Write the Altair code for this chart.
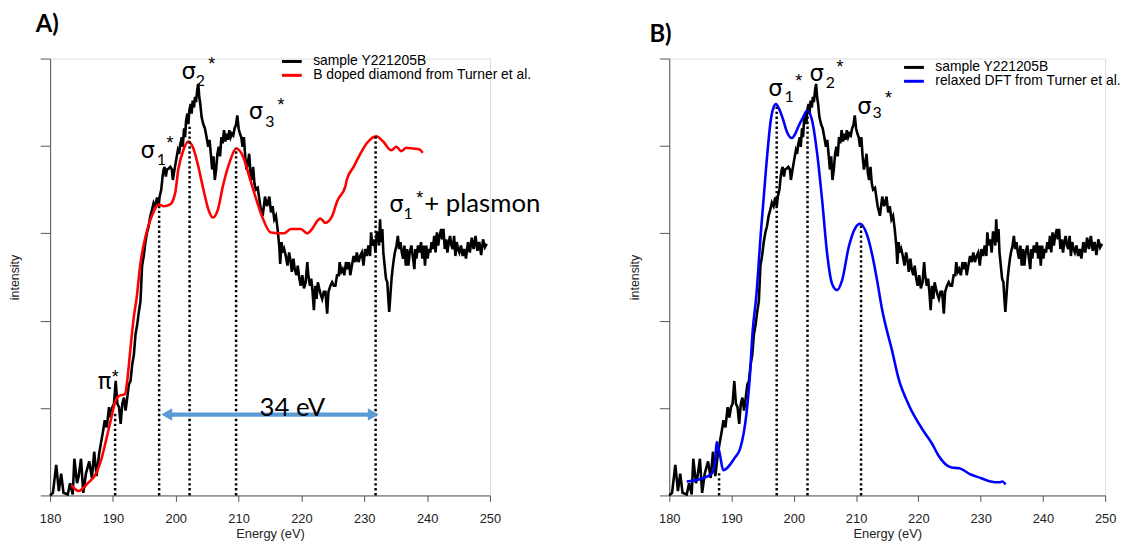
import altair as alt
import pandas as pd

# ---------------- data ----------------
SAMPLE = "sample Y221205B"
RED_NAME = "B doped diamond from Turner et al."
BLUE_NAME = "relaxed DFT from Turner et al."

x_ticks = [180, 190, 200, 210, 220, 230, 240, 250]
y_ticks = [0, 1, 2, 3, 4, 5]

black_E = [180.0, 180.45, 180.97, 181.39, 181.76, 182.13, 182.81, 183.18, 183.6, 183.86,
           184.28, 184.55, 184.92, 185.28, 185.7, 186.23, 186.65, 187.02, 187.39, 187.81,
           188.07, 188.44, 188.7, 189.02, 189.38, 189.65, 189.91, 190.17, 190.44, 190.7,
           190.96, 191.23, 191.49, 191.75, 192.01, 192.28, 192.54, 192.8, 193.07, 193.33,
           193.59, 193.85, 194.12, 194.38,
           194.64, 194.9, 195.17, 195.43, 195.69, 195.96, 196.22, 196.48, 196.75, 197.01,
           197.27, 197.43, 197.69, 197.9, 198.06, 198.22, 198.43, 198.59, 198.85, 199.12,
           199.38, 199.53, 199.8, 200.01, 200.33, 200.53, 200.69, 200.96, 201.11, 201.32,
           201.48, 201.64, 201.85, 202.01, 202.16, 202.37, 202.53, 202.69, 202.9, 203.06,
           203.22, 203.43, 203.58, 203.74, 203.9, 204.11, 204.37, 204.64, 204.9, 205.16,
           205.37, 205.58, 205.79, 206.0, 206.21, 206.42, 206.63, 206.84, 207.05, 207.26,
           207.47, 207.68, 207.9, 208.1, 208.31, 208.52, 208.73, 208.94, 209.15, 209.36,
           209.58, 209.79, 210.0, 210.21, 210.42, 210.63, 210.84, 211.05, 211.26, 211.47,
           211.68, 211.89, 212.1, 212.31, 212.52, 212.73,
           213.04, 213.46, 213.83, 214.2, 214.52, 214.89, 215.15, 215.41, 215.68, 215.94,
           216.2, 216.46, 216.62, 216.83, 217.04, 217.25, 217.51, 217.78, 218.04, 218.3,
           218.46, 218.72, 218.93, 219.2, 219.41, 219.67, 219.88, 220.14, 220.4, 220.67,
           220.93, 221.09, 221.35, 221.56, 221.77, 221.98, 222.19, 222.4, 222.61, 222.82,
           223.03, 223.3, 223.56, 223.82, 224.09, 224.3, 224.61, 224.88, 225.14, 225.4,
           225.66, 225.93, 226.08, 226.35, 226.56, 226.82, 227.09, 227.35, 227.56, 227.77,
           228.03, 228.3, 228.56, 228.82, 229.08, 229.35, 229.61, 229.87, 230.13, 230.4,
           230.66, 230.92, 231.08, 231.29, 231.56, 231.77, 231.98, 232.19, 232.35, 232.51,
           232.66, 232.87, 233.03, 233.24, 233.45, 233.66, 233.82, 233.97, 234.19, 234.34,
           234.5, 234.71, 234.87, 235.13, 235.34, 235.55, 235.76, 235.97, 236.18, 236.39,
           236.6, 236.81, 237.02, 237.23, 237.5, 237.76, 237.97, 238.13, 238.29, 238.55,
           238.82, 239.03, 239.24, 239.45, 239.66, 239.87, 240.08, 240.29, 240.5, 240.71,
           240.92, 241.13, 241.34, 241.55, 241.76, 241.97, 242.24, 242.39, 242.6, 242.81,
           243.02, 243.23, 243.44, 243.65, 243.86, 244.08, 244.29, 244.5, 244.71, 244.92,
           245.13, 245.39, 245.66, 245.92, 246.18, 246.5, 246.8, 247.1, 247.4, 247.7,
           248.0, 248.3, 248.6, 248.9, 249.2, 249.5]
black_I = [0.0, 0.03, 0.35, 0.05, 0.25, 0.03, 0.01, 0.14, 0.01, 0.42,
           0.14, 0.22, 0.42, 0.03, 0.25, 0.39, 0.2, 0.5, 0.22, 0.48,
           0.59, 0.74, 0.86, 0.78, 1.01, 0.89, 1.01, 1.05, 1.31, 1.05,
           1.01, 0.82, 1.05, 1.12, 0.97, 1.12, 1.27, 1.31, 1.5, 1.61,
           1.84, 1.95, 2.1, 2.22,
           2.63, 2.74, 2.9, 3.01, 3.08, 3.2, 3.27, 3.35, 3.31, 3.41,
           3.31, 3.42, 3.5, 3.65, 3.73, 3.76, 3.65, 3.73, 3.74, 3.76,
           3.73, 3.61, 3.73, 3.82, 3.95, 3.91, 4.01, 4.1, 3.99, 4.2,
           4.1, 4.29, 4.37, 4.25, 4.41, 4.48, 4.37, 4.52, 4.44, 4.56,
           4.5, 4.65, 4.71, 4.56, 4.48, 4.33, 4.25, 4.2, 4.1, 3.99,
           4.07, 3.91, 3.73, 3.88, 3.61, 3.73, 3.91, 3.99, 3.88, 4.1,
           4.03, 4.18, 4.05, 4.14, 4.07, 4.18, 4.1, 4.14, 4.12, 4.2,
           4.24, 4.35, 4.2, 4.14, 4.1, 3.99, 4.1, 3.88, 3.73, 3.8,
           3.91, 3.69, 3.61, 3.76, 3.57, 3.5,
           3.52, 3.31, 3.2, 3.42, 3.31, 3.42, 3.24, 3.31, 3.16, 3.2,
           3.05, 2.86, 2.65, 2.9, 2.78, 2.82, 2.74, 2.63, 2.78, 2.67,
           2.56, 2.71, 2.59, 2.52, 2.63, 2.48, 2.4, 2.52, 2.37, 2.44,
           2.67, 2.52, 2.4, 2.48, 2.33, 2.12, 2.4, 2.25, 2.44, 2.37,
           2.31, 2.25, 2.33, 2.33, 2.08, 2.33, 2.4, 2.44, 2.4, 2.4,
           2.52, 2.52, 2.67, 2.56, 2.59, 2.52, 2.67, 2.59, 2.67, 2.52,
           2.63, 2.74, 2.67, 2.78, 2.67, 2.74, 2.78, 2.63, 2.82, 2.74,
           2.86, 2.74, 3.01, 2.86, 2.93, 2.78, 3.01, 3.01, 2.86, 3.16,
           2.9, 3.05, 2.78, 2.63, 2.48, 2.44, 2.25, 2.1, 2.33, 2.48,
           2.59, 2.71, 2.78, 2.86, 2.97, 2.82, 2.9, 2.78, 2.71, 2.86,
           2.63, 2.82, 2.63, 2.78, 2.86, 2.71, 2.59, 2.82, 2.71, 2.86,
           2.78, 2.9, 2.71, 2.86, 2.63, 2.86, 2.71, 2.82, 2.78, 2.9,
           2.82, 2.97, 2.78, 3.01, 2.86, 2.97, 3.05, 2.93, 3.05, 2.82,
           2.93, 2.78, 2.9, 2.97, 2.86, 2.82, 2.97, 2.74, 2.9, 2.82,
           2.78, 2.86, 2.74, 2.82, 2.71, 2.9, 2.78, 2.95, 2.82, 2.97,
           2.8, 2.9, 2.75, 2.93, 2.84, 2.88]

red_E = [183.4, 184.2, 184.5, 186.0, 187.3, 188.1, 188.9, 189.65, 190.4, 190.96,
         191.9, 192.27, 192.8, 193.3, 193.75, 194.4, 195.2, 196.2, 197.3, 198.1,
         199.1, 199.9, 200.4, 201.2, 202.0, 202.8, 203.6, 204.4, 205.2, 205.9,
         206.7, 207.5, 208.6, 209.6, 210.7, 211.7, 212.8, 213.8, 215.1, 217.25,
         218.3, 219.9, 220.9, 221.7, 222.5, 223.0, 223.8, 224.9, 225.7, 227.0,
         227.2, 228.3, 229.3, 230.4, 231.9, 233.0, 234.3, 235.1, 235.9, 236.7,
         237.8, 238.8, 239.3]
red_I = [0.12, 0.06, 0.05, 0.14, 0.25, 0.4, 0.63, 0.86, 1.08, 1.14,
         1.16, 1.31, 1.69, 2.03, 2.25, 2.67, 2.97, 3.2, 3.33, 3.31,
         3.33, 3.46, 3.73, 3.95, 4.05, 3.97, 3.76, 3.5, 3.27, 3.18,
         3.27, 3.54, 3.82, 3.97, 3.88, 3.65, 3.39, 3.18, 3.01, 3.0,
         3.05, 3.05, 3.0, 3.05, 3.14, 3.17, 3.12, 3.2, 3.37, 3.54,
         3.61, 3.76, 3.9, 4.03, 4.11, 4.05, 3.95, 3.99, 3.94, 3.98,
         3.97, 3.96, 3.92]

blue_E = [182.8, 185.5, 186.8, 187.35, 187.6, 188.1, 188.66, 190.5, 191.4, 192.4,
          192.9, 193.4, 193.96, 194.7, 195.55, 196.35, 196.8, 197.14, 197.6, 198.2,
          198.9, 199.68, 200.3, 200.85, 201.5, 202.07, 202.5, 202.97, 203.77, 204.56,
          205.36, 206.15, 206.95, 207.75, 208.81, 209.86, 210.66, 211.72, 212.6, 213.4,
          214.2, 214.9, 215.7, 216.85, 218.5, 220.8, 222.3, 223.2, 225.3, 226.6,
          228.4, 230.0, 231.6, 233.0, 233.5, 234.0]
blue_I = [0.16, 0.2, 0.25, 0.37, 0.61, 0.48, 0.29, 0.43, 0.54, 0.94,
          1.32, 1.89, 2.27, 3.0, 3.75, 4.32, 4.45, 4.48, 4.43, 4.32,
          4.16, 4.09, 4.15, 4.24, 4.33, 4.4, 4.38, 4.28, 3.9, 3.37,
          2.76, 2.42, 2.35, 2.46, 2.84, 3.06, 3.11, 2.99, 2.75, 2.45,
          2.12, 1.9, 1.68, 1.33, 1.03, 0.74, 0.58, 0.46, 0.32, 0.31,
          0.24, 0.2, 0.16, 0.15, 0.16, 0.125]

# annotations, panel A
A_vline_E = [190.35, 197.35, 202.2, 209.6, 231.8]
A_vline_top = [0.95, 3.31, 4.22, 3.98, 4.11]
A_greek_E = [194.40, 200.90, 211.62, 187.57, 233.97]
A_greek_I = [3.86, 4.77, 4.31, 1.22, 3.24]
A_greek_txt = ["σ", "σ", "σ", "π", "σ"]
A_sub_E = [196.96, 203.19, 214.23, 236.23]
A_sub_I = [3.78, 4.69, 4.22, 3.16]
A_sub_txt = ["1", "2", "3", "1"]
A_star_E = [198.53, 205.16, 216.20, 189.81, 238.28]
A_star_I = [3.96, 4.87, 4.40, 1.29, 3.33]
A_word_E = [239.54]
A_word_I = [3.24]
A_word_txt = ["+ plasmon"]
A_gap_E = [218.56]
A_gap_I = [0.91]
A_gap_txt = ["34 eV"]
A_arrow_E = [198.57, 231.42]
A_arrow_I = [0.925, 0.925]
A_arrow_shape = ["triangle-left", "triangle-right"]

# annotations, panel B
B_vline_E = [188.0, 197.25, 202.2, 210.8]
B_vline_top = [0.27, 4.47, 4.39, 3.10]
B_greek_E = [195.88, 202.50, 210.19]
B_greek_I = [4.57, 4.74, 4.37]
B_greek_txt = ["σ", "σ", "σ"]
B_sub_E = [198.49, 205.12, 212.62]
B_sub_I = [4.50, 4.66, 4.32]
B_sub_txt = ["1", "2", "3"]
B_star_E = [200.22, 206.85, 214.64]
B_star_I = [4.67, 4.84, 4.48]

# ---------------- chart ----------------
AXIS_COL = "#555555"
LABEL_COL = "#222222"
H = 441


def xenc():
    return alt.X("E:Q", scale=alt.Scale(domain=[180, 250], nice=False, zero=False),
                 axis=alt.Axis(values=x_ticks, title="Energy (eV)", grid=False, format="d",
                               tickSize=6, labelPadding=11.5, titlePadding=2,
                               labelFont="Liberation Sans", labelFontSize=13, labelColor=LABEL_COL,
                               titleFont="Liberation Sans", titleFontSize=13, titleFontWeight="normal",
                               titleColor=LABEL_COL, domainColor=AXIS_COL, tickColor=AXIS_COL,
                               labelFlush=False))


def yenc():
    return alt.Y("I:Q", scale=alt.Scale(domain=[0, 5], nice=False, zero=False),
                 axis=alt.Axis(values=y_ticks, labels=False, title="intensity", grid=False,
                               tickSize=10, titlePadding=18,
                               titleFont="Liberation Sans", titleFontSize=12.5, titleFontWeight="normal",
                               titleColor=LABEL_COL, domainColor=AXIS_COL, tickColor=AXIS_COL))


def text_layer(E, I, txt, font, size, align="left", weight="normal"):
    df = pd.DataFrame({"E": E, "I": I, "t": txt})
    return alt.Chart(df).mark_text(font=font, fontSize=size, align=align, baseline="alphabetic",
                                   color="black", fontWeight=weight).encode(
        x=xenc(), y=yenc(), text="t:N")


def panel(ref_E, ref_I, ref_name, ref_color, vE, vTop, gE, gI, gT, sE, sI, sT, stE, stI,
          leg_x, leg_y, title, title_dx, title_offset, width, extra=None):
    domain = [SAMPLE, ref_name]
    color = alt.Color("series:N",
                      scale=alt.Scale(domain=domain, range=["black", ref_color]),
                      legend=alt.Legend(title=None, orient="none", legendX=leg_x, legendY=leg_y,
                                        direction="vertical", symbolType="M-4,0H4", symbolSize=25,
                                        symbolStrokeWidth=3, labelFont="Liberation Sans",
                                        labelFontSize=14, labelColor="black", labelOffset=14.5,
                                        rowPadding=-0.7, padding=0, labelLimit=400))
    blk = pd.DataFrame({"E": black_E, "I": black_I, "series": SAMPLE})
    ref = pd.DataFrame({"E": ref_E, "I": ref_I, "series": ref_name})
    l_black = alt.Chart(blk).mark_line(strokeWidth=2.6, interpolate="linear").encode(
        x=xenc(), y=yenc(), color=color)
    l_ref = alt.Chart(ref).mark_line(strokeWidth=2.6, interpolate="monotone").encode(
        x=xenc(), y=yenc(), color=color)
    vdf = pd.DataFrame({"E": vE, "I": [0] * len(vE), "I2": vTop})
    vlines = alt.Chart(vdf).mark_rule(color="black", strokeWidth=2.5, strokeDash=[2.4, 2.6]).encode(
        x=xenc(), y=yenc(), y2="I2:Q")
    layers = [l_black, l_ref, vlines]
    if extra:
        layers += extra
    layers += [
        text_layer(gE, gI, gT, "DejaVu Sans", 23),
        text_layer(sE, sI, sT, "Lato", 16),
        text_layer(stE, stI, ["*"] * len(stE), "Liberation Sans", 18),
    ]
    return alt.layer(*layers).properties(
        width=width, height=H,
        title=alt.TitleParams(title, anchor="start", frame="group", dx=title_dx, offset=title_offset,
                              baseline="alphabetic", font="Lato", fontSize=24, fontWeight="bold",
                              color="black"))


# arrow + extra texts for panel A
arrow_rule = alt.Chart(pd.DataFrame({"E": [A_arrow_E[0]], "E2": [A_arrow_E[1]], "I": [A_arrow_I[0]]})) \
    .mark_rule(color="#5B9BD5", strokeWidth=4.5).encode(x=xenc(), x2="E2:Q", y=yenc())
arrow_heads = alt.Chart(pd.DataFrame({"E": A_arrow_E, "I": A_arrow_I, "shape": A_arrow_shape})) \
    .mark_point(filled=True, size=160, color="#5B9BD5", opacity=1).encode(
        x=xenc(), y=yenc(), shape=alt.Shape("shape:N", scale=None))
A_extra = [arrow_rule, arrow_heads,
           text_layer(A_word_E, A_word_I, A_word_txt, "Lato", 26),
           text_layer(A_gap_E, A_gap_I, A_gap_txt, "Lato", 26, align="center")]

panelA = panel(red_E, red_I, RED_NAME, "#ff0000", A_vline_E, A_vline_top,
               A_greek_E, A_greek_I, A_greek_txt, A_sub_E, A_sub_I, A_sub_txt, A_star_E, A_star_I,
               leg_x=237, leg_y=-4.05, title="A)", title_dx=-14.5, title_offset=-1.25, width=444,
               extra=A_extra)
panelB = panel(blue_E, blue_I, BLUE_NAME, "#0000ff", B_vline_E, B_vline_top,
               B_greek_E, B_greek_I, B_greek_txt, B_sub_E, B_sub_I, B_sub_txt, B_star_E, B_star_I,
               leg_x=240, leg_y=1.95, title="B)", title_dx=-20, title_offset=-7.55, width=440)

chart = alt.hconcat(panelA, panelB, spacing=181, bounds="flush").resolve_scale(
    color="independent", x="independent", y="independent").resolve_legend(
    color="independent").properties(padding={"left": 0.5, "top": 1.5, "right": 0, "bottom": 0}).configure_view(
    stroke=None).configure(font="Liberation Sans")

chart.save("out.html", embed_options={"renderer": "svg", "actions": False})
